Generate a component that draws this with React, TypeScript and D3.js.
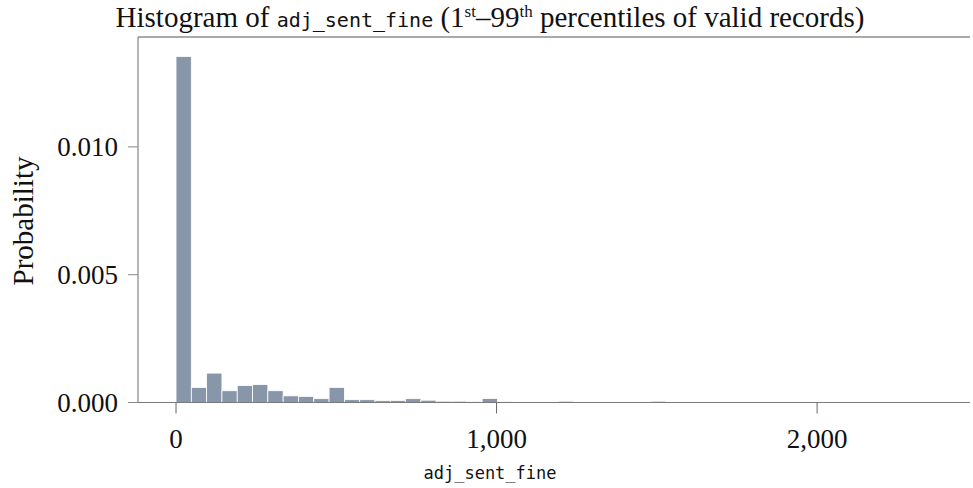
import * as d3 from "d3";

// histogram data: 50 equal bins starting at 0
const binStart = 0;
const binWidth = 47.75;
const probabilities = [
  0.01354, 0.00059, 0.00115, 0.00046, 0.00066, 0.0007, 0.00046, 0.00026, 0.00024, 0.00015,
  0.00059, 0.00011, 0.00011, 0.00007, 0.00008, 0.00015, 0.00009, 0.00005, 0.00005, 0.00004,
  0.00016, 0.00004, 0.00002, 0.00002, 0.00002, 0.00005, 0.00002, 0.00001, 0.00001, 0.00001,
  0.00001, 0.00005, 0.00001, 0.00001, 0.00002, 0.00002, 0.00002, 0.00001, 0.00001, 0.00001,
  0.00001, 0.00001, 0.00001, 0.00001, 0.00001, 0.00001, 0.00002, 0.00002, 0.00001, 0.00001,
];
const xTicks = [0, 1000, 2000];
const yTicks = [0, 0.005, 0.01];

const width = 973;
const height = 488;
const margin = { top: 37, right: 3, bottom: 86, left: 138 };

const serif = "'Liberation Serif', 'DejaVu Serif', serif";
const mono = "'DejaVu Sans Mono', monospace";

export default function App() {
  const x = d3
    .scaleLinear()
    .domain([-118.6, 2477])
    .range([margin.left, 970]);

  const y = d3
    .scaleLinear()
    .domain([0, 0.0143])
    .range([height - margin.bottom + 0.5, margin.top]);

  const bins = probabilities.map((p, i) => ({
    x0: binStart + i * binWidth,
    x1: binStart + (i + 1) * binWidth,
    p,
  }));

  const fmtX = d3.format(",");
  const fmtY = d3.format(".3f");
  const base = y(0);

  return (
    <svg
      width={width}
      height={height}
      style={{ position: "absolute", left: 0, top: 0 }}
    >
      <rect width={width} height={height} fill="#fff" />

      {/* bars */}
      {bins.map((b, i) => (
        <rect
          key={i}
          x={x(b.x0)}
          y={y(b.p)}
          width={x(b.x1) - x(b.x0)}
          height={base - y(b.p)}
          fill="#8796a9"
          stroke="#fff"
          strokeWidth={0.8}
        />
      ))}

      {/* spines */}
      <line x1={margin.left} x2={970} y1={margin.top} y2={margin.top} stroke="#555" />
      <line x1={margin.left} x2={margin.left} y1={margin.top} y2={base} stroke="#6e6e6e" />
      <line x1={margin.left} x2={970} y1={base} y2={base} stroke="#7a7a7a" />

      {/* y axis */}
      {yTicks.map((t) => (
        <g key={t} transform={`translate(0,${y(t)})`}>
          <line x1={128} x2={margin.left} stroke="#888" />
          <text
            x={118}
            dy="0.35em"
            textAnchor="end"
            fontFamily={serif}
            fontSize={27}
            fill="#111"
          >
            {fmtY(t)}
          </text>
        </g>
      ))}

      {/* x axis */}
      {xTicks.map((t) => (
        <g key={t} transform={`translate(${x(t)},0)`}>
          <line y1={base} y2={base + 11} stroke="#666" />
          <text
            y={448}
            textAnchor="middle"
            fontFamily={serif}
            fontSize={27}
            fill="#111"
          >
            {fmtX(t)}
          </text>
        </g>
      ))}

      <text
        transform="translate(33,221) rotate(-90)"
        textAnchor="middle"
        fontFamily={serif}
        fontSize={29}
        fill="#111"
      >
        Probability
      </text>

      <text x={490} y={479} textAnchor="middle" fontFamily={mono} fontSize={17} fill="#111">
        adj_sent_fine
      </text>

      {/* title */}
      <text x={490} y={27} textAnchor="middle" fontFamily={serif} fontSize={29} fill="#111">
        Histogram of{" "}
        <tspan fontFamily={mono} fontSize={20}>adj_sent_fine</tspan>
        <tspan> (1</tspan>
        <tspan fontSize={17} dy={-10}>st</tspan>
        <tspan dy={10}>–99</tspan>
        <tspan fontSize={17} dy={-10}>th</tspan>
        <tspan dy={10}> percentiles of valid records)</tspan>
      </text>
    </svg>
  );
}
